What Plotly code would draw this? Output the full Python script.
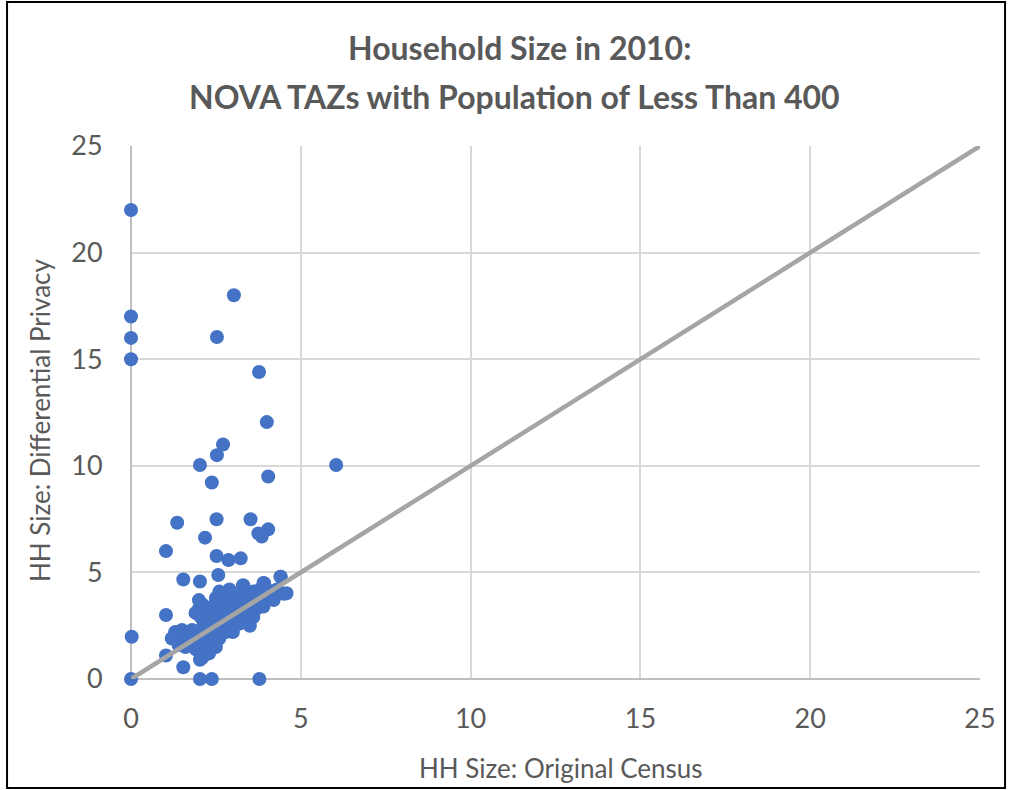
import plotly.graph_objects as go

# Outlying points (original census HH size, differential privacy HH size)
out_x = [0, 0, 0, 0, 3.03, 2.53, 3.77, 4.0, 2.71, 6.04, 2.03, 2.53, 2.38, 4.04, 1.36, 2.52, 3.52,
         4.04, 3.85, 3.75, 2.18, 1.03, 2.52, 2.87, 3.23, 2.57, 1.54, 2.03, 4.41, 3.31, 3.92, 4.58,
         1.03, 0.02, 1.03, 1.54, 2.03, 2.38, 3.78, 0.0, 2.03, 2.23]
out_y = [22, 17, 16, 15, 18, 16.04, 14.4, 12.05, 11.0, 10.04, 10.04, 10.5, 9.22, 9.5, 7.33, 7.49, 7.49,
         7.02, 6.68, 6.83, 6.63, 6.0, 5.77, 5.58, 5.66, 4.88, 4.67, 4.57, 4.8, 4.36, 4.49, 4.02,
         3.0, 1.98, 1.1, 0.55, 0.0, 0.0, 0.0, 0.0, 0.9, 1.2]

# Dense cluster
cl_x = [1.3, 1.4, 1.5, 1.5, 1.6, 1.7, 1.8, 1.7, 1.9, 1.4, 1.6, 1.8, 2.0, 2.0, 2.1, 2.2, 1.2, 1.9, 2.1,
        2.3, 2.0, 2.2, 2.0, 2.0, 2.1, 2.2, 2.2, 2.3, 2.3, 2.4, 2.4, 2.5, 2.5, 2.5, 2.6, 2.6, 2.6, 2.7,
        2.7, 2.7, 2.8, 2.8, 2.8, 2.9, 2.9, 2.9, 3.0, 3.0, 3.0, 3.1, 3.1, 3.2, 3.2, 3.2, 3.3, 3.3, 3.3,
        3.4, 3.4, 3.5, 3.5, 3.5, 3.6, 3.6, 3.6, 3.7, 3.7, 3.8, 3.8, 3.9, 3.9, 4.0, 4.0, 4.1, 4.2, 4.3,
        4.5, 4.4, 3.9, 3.3, 2.3, 2.4, 2.6, 2.8, 3.0, 2.5, 2.1, 2.0, 1.9]
cl_y = [2.2, 2.0, 2.3, 1.8, 2.1, 2.2, 2.3, 1.9, 2.0, 1.6, 1.5, 1.7, 1.8, 2.2, 2.4, 2.0, 1.9, 1.4, 1.0,
        1.2, 1.3, 1.6, 3.0, 3.3, 3.5, 3.2, 2.7, 3.0, 2.5, 3.4, 2.2, 3.1, 2.8, 3.8, 3.3, 2.6, 4.1, 3.6,
        3.0, 2.4, 3.9, 3.2, 2.7, 3.5, 2.9, 4.2, 3.1, 3.7, 2.5, 3.4, 2.8, 3.9, 3.2, 2.6, 3.6, 3.0, 4.3,
        3.3, 2.8, 3.8, 3.1, 2.5, 3.5, 4.1, 2.9, 3.3, 3.8, 3.6, 4.2, 3.4, 3.9, 3.7, 4.2, 3.9, 3.7, 4.2,
        4.0, 4.8, 4.5, 4.4, 2.0, 1.7, 1.9, 2.2, 2.2, 1.5, 2.8, 3.7, 3.1]

# Reference line y = x
line_x = [0, 25]
line_y = [0, 25]

ticks = [0, 5, 10, 15, 20, 25]

font = "Lato, Carlito, sans-serif"

fig = go.Figure()
fig.add_trace(go.Scatter(x=out_x + cl_x, y=out_y + cl_y, mode="markers",
                         marker=dict(color="#4472C4", size=14, line=dict(width=0)),
                         cliponaxis=False, showlegend=False))
fig.add_trace(go.Scatter(x=line_x, y=line_y, mode="lines",
                         line=dict(color="#A5A5A5", width=4.5), showlegend=False))

axis_common = dict(range=[0, 25], tickvals=ticks, showgrid=True, gridcolor="#D9D9D9", gridwidth=1.5,
                   zeroline=True, zerolinecolor="#BFBFBF", zerolinewidth=1.5,
                   ticks="outside", tickcolor="rgba(0,0,0,0)",
                   tickfont=dict(family=font, size=27, color="#595959"))
fig.update_xaxes(**axis_common, ticklen=16)
fig.update_yaxes(**axis_common, ticklen=22)

fig.update_layout(
    width=1009, height=790,
    margin=dict(l=131, r=29, t=146, b=111),
    paper_bgcolor="white", plot_bgcolor="white",
    annotations=[
        dict(text="<b>Household Size in 2010:</b>", x=0.458, y=1.184, xref="paper", yref="paper",
             xanchor="center", yanchor="middle",
             showarrow=False, font=dict(family=font, size=32, color="#595959")),
        dict(text="<b>NOVA TAZs with Population of Less Than 400</b>", x=0.452, y=1.092, xref="paper",
             yref="paper", xanchor="center", yanchor="middle",
             showarrow=False, font=dict(family=font, size=32, color="#595959")),
        dict(text="HH Size: Original Census", x=0.506, y=-0.167, xref="paper", yref="paper",
             xanchor="center", yanchor="middle",
             showarrow=False, font=dict(family=font, size=26, color="#595959")),
        dict(text="HH Size: Differential Privacy", x=-0.107, y=0.486, xref="paper", yref="paper",
             xanchor="center", yanchor="middle",
             textangle=-90, showarrow=False, font=dict(family=font, size=26, color="#595959")),
    ],
    shapes=[dict(type="rect", xref="paper", yref="paper", x0=-0.146, x1=1.0295, y0=-0.2045, y1=1.27,
                 line=dict(color="black", width=2))],
)

fig.write_html("out.html", config={"displayModeBar": False},
               post_script="document.body.style.margin='0';document.body.style.padding='0';")
